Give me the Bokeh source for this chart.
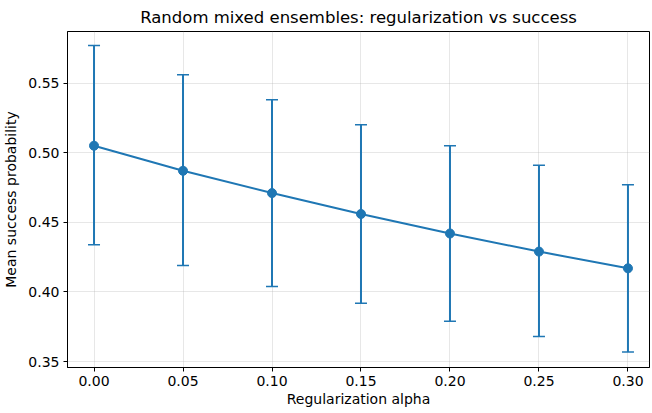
from bokeh.plotting import figure
from bokeh.models import ColumnDataSource, Whisker, TeeHead, FixedTicker, Range1d, NumeralTickFormatter
from bokeh.embed import file_html
from bokeh.resources import INLINE

alpha = [0.00, 0.05, 0.10, 0.15, 0.20, 0.25, 0.30]
mean_success = [0.505, 0.487, 0.471, 0.456, 0.442, 0.429, 0.417]
upper = [0.577, 0.556, 0.538, 0.520, 0.505, 0.491, 0.477]
lower = [0.434, 0.419, 0.404, 0.392, 0.379, 0.368, 0.357]
x_ticks = [0.00, 0.05, 0.10, 0.15, 0.20, 0.25, 0.30]
y_ticks = [0.35, 0.40, 0.45, 0.50, 0.55]

COLOR = "#1f77b4"
FONT = "DejaVu Sans"

src = ColumnDataSource(dict(x=alpha, y=mean_success, upper=upper, lower=lower))

p = figure(output_backend="svg", toolbar_location=None,
           frame_width=582, frame_height=336,
           min_border_left=61, min_border_right=1, min_border_top=23, min_border_bottom=38,
           x_range=Range1d(-0.0149, 0.3121), y_range=Range1d(0.3458, 0.587),
           title="Random mixed ensembles: regularization vs success")

p.title.align = "center"
p.title.text_font = FONT
p.title.text_font_size = "16.5px"
p.title.text_font_style = "normal"
p.title.text_color = "#000000"

p.outline_line_color = "#000000"
p.outline_line_width = 1

for ax in (p.xaxis[0], p.yaxis[0]):
    ax.axis_line_color = "#000000"
    ax.major_tick_line_color = "#000000"
    ax.major_tick_out = 4
    ax.major_tick_in = 0
    ax.minor_tick_line_color = None
    ax.major_label_text_font = FONT
    ax.major_label_text_font_size = "14px"
    ax.major_label_text_color = "#000000"
    ax.axis_label_text_font = FONT
    ax.axis_label_text_font_size = "14px"
    ax.axis_label_text_font_style = "normal"
    ax.axis_label_text_color = "#000000"

p.xaxis.ticker = FixedTicker(ticks=x_ticks)
p.yaxis.ticker = FixedTicker(ticks=y_ticks)
p.xaxis.formatter = NumeralTickFormatter(format="0.00")
p.yaxis.formatter = NumeralTickFormatter(format="0.00")
p.xaxis.axis_label = "Regularization alpha"
p.yaxis.axis_label = "Mean success probability"
p.xaxis.major_label_standoff = 4
p.xaxis.axis_label_standoff = 2
p.yaxis.major_label_standoff = 4
p.yaxis.axis_label_standoff = 6

p.grid.grid_line_color = "#b0b0b0"
p.grid.grid_line_alpha = 0.3
p.grid.grid_line_width = 1

w = Whisker(source=src, base="x", upper="upper", lower="lower",
            line_color=COLOR, line_width=2,
            upper_head=TeeHead(size=12, line_color=COLOR, line_width=1.5),
            lower_head=TeeHead(size=12, line_color=COLOR, line_width=1.5))
p.add_layout(w)

p.line("x", "y", source=src, line_color=COLOR, line_width=2)
p.scatter("x", "y", source=src, size=9, fill_color=COLOR, line_color=COLOR)

open("out.html", "w").write(file_html(p, INLINE))
